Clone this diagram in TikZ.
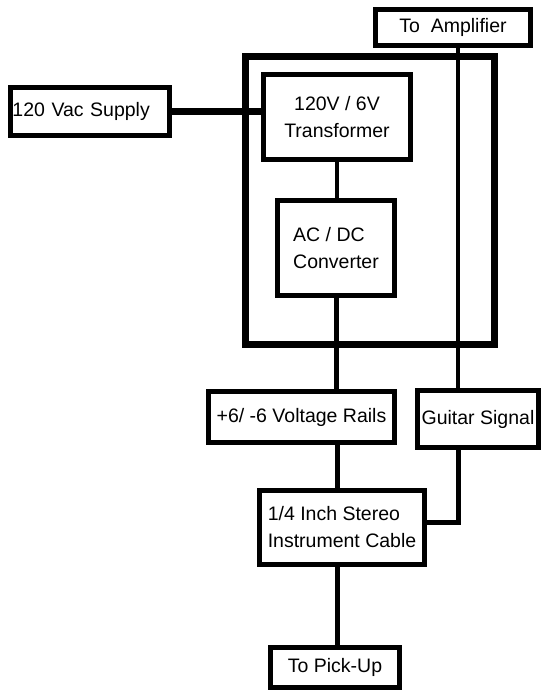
\documentclass[tikz,border=0pt]{standalone}
\usepackage{fontspec}
\setmainfont{Liberation Sans}
\usetikzlibrary{calc,positioning}

\begin{document}
\begin{tikzpicture}[x=1pt, y=-1pt,
    blk/.style={draw, line width=5pt, inner sep=0pt, font=\fontsize{19.5}{27}\selectfont},
    wire/.style={line width=5pt}]
    \useasboundingbox[fill=white] (0,0) rectangle (544,694);
    % enclosure
    \node[draw, line width=7pt, minimum width=249pt, minimum height=288pt] (case) at (370,200.5) {};
    \node[blk, minimum width=155pt, minimum height=36pt] (amp) at (453,27.5) {To\ \ Amplifier};
    \node[blk, minimum width=159pt, minimum height=48pt, text width=155pt, align=left] (supply) at (90,111.5) {120 Vac Supply};
    \node[blk, minimum width=147pt, minimum height=85pt, align=center] (trans) at (337,117) {120V / 6V\\Transformer};
    \node[blk, minimum width=117pt, minimum height=95pt, align=left] (conv) at (336,248) {AC / DC\\Converter};
    \node[blk, minimum width=186pt, minimum height=51pt] (rails) at (301.5,417) {+6/ -6 Voltage Rails};
    \node[blk, minimum width=121pt, minimum height=57pt] (guitar) at (478,419) {Guitar Signal};
    \node[blk, minimum width=165pt, minimum height=74pt, align=left] (cable) at (342,527.5) {1/4 Inch Stereo\\Instrument Cable};
    \node[blk, minimum width=129pt, minimum height=40pt] (pickup) at (335,667.5) {To Pick-Up};
    \coordinate (sig) at (458,0);
    \coordinate (spine) at (337,0);
    % power path
    \draw[line width=7pt] (supply.east) -- (supply.east -| trans.west);
    \draw[line width=3.5pt] (trans.south) -- (trans.south |- conv.north);
    \draw[wire] (conv.south) -- (conv.south |- rails.north);
    \draw[wire] (rails.south -| spine) -- (cable.north -| spine);
    \draw[wire] (cable.south -| spine) -- (pickup.north -| spine);
    % signal path
    \draw[line width=4pt] (amp.south -| sig) -- (guitar.north -| sig);
    \draw[wire] (guitar.south -| sig) |- ($(cable.east)+(0,-5)$);
\end{tikzpicture}
\end{document}
